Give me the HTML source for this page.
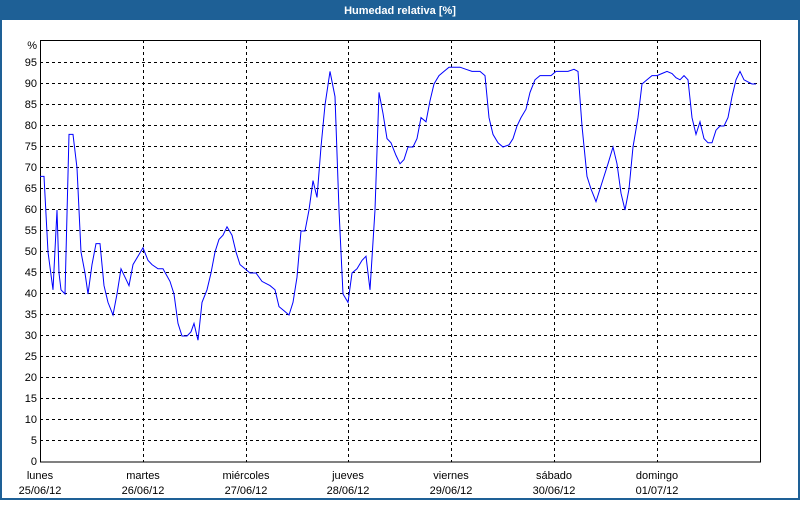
<!DOCTYPE html>
<html><head><meta charset="utf-8"><style>
body{margin:0;width:800px;height:500px;overflow:hidden;background:#fff}
</style></head><body>
<svg width="800" height="500" xmlns="http://www.w3.org/2000/svg" font-family="Liberation Sans, sans-serif" font-size="11">
<rect x="0" y="0" width="800" height="500" fill="#1e6096"/>
<rect x="2" y="20" width="796" height="478" fill="#fff"/>
<text x="400" y="14" fill="#fff" font-weight="bold" text-anchor="middle" font-size="11">Humedad relativa [%]</text>
<g stroke="#000" stroke-dasharray="3,3" stroke-width="1">
<path d="M40 440.5H760M40 419.5H760M40 398.5H760M40 377.5H760M40 356.5H760M40 335.5H760M40 314.5H760M40 293.5H760M40 272.5H760M40 251.5H760M40 230.5H760M40 209.5H760M40 188.5H760M40 167.5H760M40 146.5H760M40 125.5H760M40 104.5H760M40 83.5H760M40 62.5H760"/>
<path d="M143.5 40V462M246.5 40V462M348.5 40V462M451.5 40V462M554.5 40V462M657.5 40V462"/>
</g>
<rect x="40.5" y="40.5" width="720" height="421.5" fill="none" stroke="#000"/>
<g text-anchor="end">
<text x="37" y="49">%</text>
<text x="37" y="66">95</text><text x="37" y="87">90</text><text x="37" y="108">85</text><text x="37" y="129">80</text><text x="37" y="150">75</text><text x="37" y="171">70</text><text x="37" y="192">65</text><text x="37" y="213">60</text><text x="37" y="234">55</text><text x="37" y="255">50</text><text x="37" y="276">45</text><text x="37" y="297">40</text><text x="37" y="318">35</text><text x="37" y="339">30</text><text x="37" y="360">25</text><text x="37" y="381">20</text><text x="37" y="402">15</text><text x="37" y="423">10</text><text x="37" y="444">5</text><text x="37" y="465">0</text>
</g>
<g text-anchor="middle">
<text x="40" y="479">lunes</text><text x="40" y="494">25/06/12</text>
<text x="143" y="479">martes</text><text x="143" y="494">26/06/12</text>
<text x="246" y="479">miércoles</text><text x="246" y="494">27/06/12</text>
<text x="348" y="479">jueves</text><text x="348" y="494">28/06/12</text>
<text x="451" y="479">viernes</text><text x="451" y="494">29/06/12</text>
<text x="554" y="479">sábado</text><text x="554" y="494">30/06/12</text>
<text x="657" y="479">domingo</text><text x="657" y="494">01/07/12</text>
</g>
<g transform="translate(0,462) scale(1,-4.2)">
<polyline fill="none" stroke="#0000ff" stroke-width="1" vector-effect="non-scaling-stroke" points="40,68 44,68 48,50 53,41 57,60 59,45 61,41 65,40 69,78 73,78 77,70 81,50 85,45 88,40 92,47 96,52 100,52 104,42 108,38 113,35 117,40 121,46 125,44 129,42 133,47 143,51 148,48 152,47 158,46 163,46 170,43 174,40 178,33 182,30 187,30 191,31 194,33 198,29 202,38 207,41 211,45 215,50 219,53 223,54 227,56 232,54 236,50 240,47 245,46 250,45 256,45 262,43 270,42 275,41 279,37 284,36 289,35 293,38 297,44 301,55 305,55 309,60 313,67 317,63 321,75 325,85 330,93 335,87 339,60 343,40 348,38 352,45 357,46 362,48 366,49 370,41 375,60 379,88 383,83 387,77 391,76 396,73 400,71 404,72 408,75 413,75 417,77 421,82 426,81 430,86 434,90 439,92 444,93 449,94 454,94 460,94 466,93.5 472,93 480,93 485,92 489,82 493,78 498,76 503,75 509,75.5 513,77 517,80 521,82 526,84 530,88 535,91 540,92 545,92 551,92 556,93 562,93 568,93 574,93.5 578,93 582,80 587,68 591,65 596,62 600,65 604,68 608,71 613,75 617,71 621,64 625,60 629,65 633,75 638,82 642,90 647,91 652,92 657,92 662,92.5 667,93 672,92.5 676,91.5 680,91 684,92 688,91 692,82 696,78 700,81 704,77 708,76 712,76 716,79 720,80 724,80 728,82 732,87 736,91 740,93 744,91 748,90.5 752,90 756,90"/>
</g>
</svg>
</body></html>
